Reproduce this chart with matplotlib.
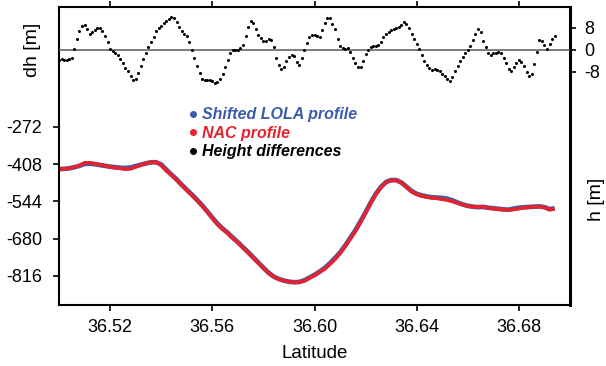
import matplotlib.pyplot as plt
import numpy as np
from matplotlib.lines import Line2D

plt.rcParams['font.family'] = ['Liberation Sans', 'DejaVu Sans']
plt.rcParams['axes.unicode_minus'] = False

# 高度差 (top panel), sampled every 0.001 deg latitude
dh_lat = np.round(np.arange(36.500, 36.6945, 0.001), 3)
dh = [-3.6, -3.3, -3.7, -3.6, -3.2, -2.8, 0.4, 3.8, 6.9, 8.6,
      9.0, 7.7, 5.9, 6.5, 7.2, 7.8, 8.0, 6.9, 5.2, 3.0,
      0.5, -0.5, -1.2, -1.9, -3.2, -4.7, -6.4, -7.8, -9.4, -11.0,
      -10.6, -8.3, -5.9, -3.3, -1.0, 1.0, 2.8, 4.7, 6.7, 7.8,
      8.8, 9.8, 10.6, 11.2, 12.0, 11.5, 10.2, 8.4, 6.7, 5.8,
      4.9, 2.9, -0.2, -2.9, -5.8, -8.4, -10.4, -10.8, -11.1, -10.8,
      -11.3, -12.0, -11.7, -10.5, -8.7, -6.2, -3.6, -1.3, 0.1, -0.2,
      -0.1, 0.6, 1.9, 4.9, 8.3, 10.6, 9.7, 7.5, 5.6, 4.5,
      3.4, 3.3, 3.9, 3.6, 1.0, -3.0, -5.5, -7.0, -6.2, -4.0,
      -2.5, -1.7, -2.3, -4.4, -5.4, -3.0, 0.0, 2.5, 4.6, 5.3,
      5.4, 4.9, 4.7, 7.2, 9.7, 11.7, 11.6, 9.5, 7.6, 3.9,
      1.4, 0.6, 0.5, 0.6, -0.8, -2.8, -4.6, -6.3, -6.3, -4.2,
      -1.5, -0.1, 1.1, 1.4, 1.6, 1.8, 2.9, 4.6, 5.8, 6.6,
      7.2, 7.7, 8.1, 8.3, 9.0, 10.1, 9.4, 7.8, 5.8, 4.1,
      2.2, 0.2, -1.9, -4.1, -5.4, -6.5, -7.2, -7.1, -7.3, -7.8,
      -8.6, -9.6, -10.7, -11.4, -9.8, -7.8, -5.7, -4.0, -2.4, -1.3,
      -0.2, 1.5, 3.6, 5.8, 7.5, 6.6, 3.4, 1.0, -1.0, -1.7,
      -1.3, -1.0, -0.7, -1.3, -3.1, -4.8, -6.9, -7.6, -6.3, -4.6,
      -3.8, -4.4, -6.0, -7.9, -9.6, -8.9, -5.0, -0.7, 3.5, 3.3,
      1.8, 0.3, 2.1, 3.9, 5.1]

# 高度剖面, sampled every 0.002 deg latitude
h_lat = np.round(np.arange(36.500, 36.6945, 0.002), 3)
lola = [-426, -425, -423, -419, -414, -407, -406, -408, -411, -414,
        -417, -419, -421, -422, -420, -415, -410, -405, -401, -401,
        -409, -428, -446, -463, -483, -501, -519, -538, -558, -580,
        -603, -625, -643, -658, -676, -693, -711, -729, -748, -767,
        -786, -804, -818, -827, -833, -837, -839, -838, -832, -822,
        -812, -800, -787, -770, -751, -730, -705, -677, -649, -617,
        -583, -548, -516, -491, -473, -466, -466, -475, -490, -506,
        -516, -522, -526, -529, -530, -531, -534, -540, -548, -555,
        -560, -563, -565, -564, -567, -569, -571, -573, -574, -570,
        -567, -565, -564, -563, -562, -565, -572, -569]
nac = [-426, -425, -423, -419, -413, -403, -403, -406, -410, -414,
       -418, -421, -423, -426, -425, -418, -411, -405, -401, -400,
       -412, -432, -448, -465, -485, -503, -521, -540, -560, -582,
       -605, -627, -645, -660, -678, -695, -713, -731, -750, -769,
       -788, -806, -819, -828, -833, -837, -839, -839, -834, -824,
       -814, -802, -790, -773, -755, -733, -708, -680, -652, -620,
       -585, -550, -518, -492, -474, -467, -467, -476, -492, -508,
       -518, -524, -528, -531, -533, -536, -539, -544, -550, -556,
       -561, -564, -563, -564, -568, -570, -572, -574, -575, -573,
       -570, -567, -565, -564, -563, -566, -574, -570]

xticks = [36.52, 36.56, 36.60, 36.64, 36.68]
hticks = [-272, -408, -544, -680, -816]
dhticks = [-8, 0, 8]

blue = '#3c5ca9'
red = '#e8222d'

fig = plt.figure(figsize=(6.06, 3.66), dpi=100)
ax = fig.add_axes([0.0974, 0.1667, 0.8432, 0.8142])

# 剖面曲线
ax.plot(h_lat, lola, color=blue, linewidth=3.4, solid_capstyle='butt')
ax.plot(h_lat, nac, color=red, linewidth=2.6, solid_capstyle='butt')

ax.set_xlim(36.50, 36.70)
ax.set_ylim(-922, 166)
ax.set_xticks(xticks)
ax.set_xticklabels(['%.2f' % v for v in xticks])
ax.set_yticks(hticks)
ax.tick_params(axis='x', direction='out', length=4, width=1.2, labelsize=13, pad=6, top=True)
ax.tick_params(axis='y', direction='out', length=4, width=1.2, labelsize=13, pad=8)
for s in ax.spines.values():
    s.set_linewidth(1.5)
ax.spines['right'].set_linewidth(2.2)

# 右侧 dh 轴
ax2 = ax.twinx()
ax2.axhline(0, color='#5a5a5a', linewidth=1.1)
ax2.plot(dh_lat, dh, linestyle='none', marker='o', markersize=1.2, color='black')
ax2.set_ylim(-92.7, 15.6)
ax2.set_yticks(dhticks)
ax2.tick_params(axis='y', direction='out', length=4, width=1.2, labelsize=13, pad=6)
for s in ax2.spines.values():
    s.set_visible(False)

# 图例
handles = [Line2D([], [], linestyle='none', marker='o', markersize=4, color=c) for c in (blue, red, 'black')]
ax.legend(handles, ['Shifted LOLA profile', 'NAC profile', 'Height differences'],
          loc='upper left', bbox_to_anchor=(0.252, 0.664), frameon=False,
          prop={'size': 11.5, 'weight': 'bold', 'style': 'italic'},
          labelcolor=[blue, red, 'black'], handlelength=0.6, handletextpad=0.3,
          labelspacing=0.22, borderpad=0, borderaxespad=0)

fig.text(0.52, 0.033, 'Latitude', fontsize=13.5, ha='center', va='center')
fig.text(0.053, 0.863, 'dh [m]', fontsize=14, rotation=90, ha='center', va='center')
fig.text(0.985, 0.456, 'h [m]', fontsize=14, rotation=90, ha='center', va='center')

plt.savefig('out.png', dpi=100)
